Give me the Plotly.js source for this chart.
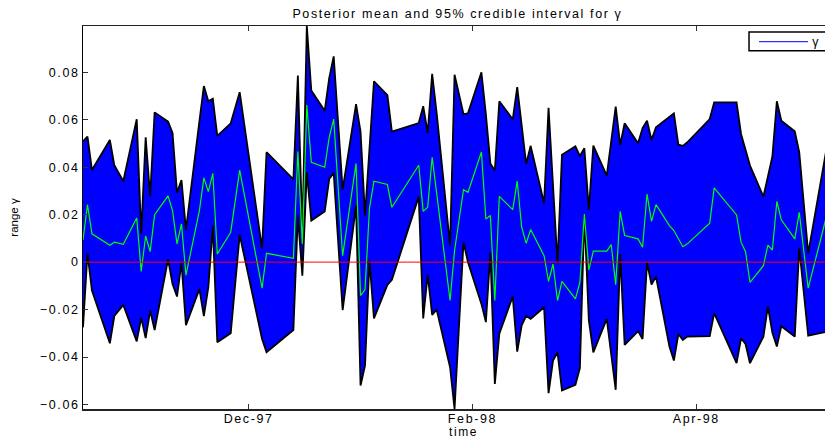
<!DOCTYPE html>
<html><head><meta charset="utf-8">
<script src="https://cdn.plot.ly/plotly-3.0.1.min.js"></script>
<style>
html,body{margin:0;padding:0;overflow:hidden;background:#fff;}
#chart text{letter-spacing:1.6px;}
#chart .ytitle{letter-spacing:0 !important;}
</style></head>
<body><div id="chart" style="width:860px;height:442px;"></div>
<script>
const dates = ['1997-11-19','1997-11-20','1997-11-21','1997-11-25','1997-11-26','1997-11-28',
'1997-12-01','1997-12-02','1997-12-03','1997-12-04','1997-12-05','1997-12-08','1997-12-09','1997-12-10','1997-12-11','1997-12-12','1997-12-15','1997-12-16','1997-12-17','1997-12-18','1997-12-19','1997-12-22','1997-12-24','1997-12-29','1997-12-30',
'1998-01-05','1998-01-06','1998-01-07','1998-01-08','1998-01-09','1998-01-12','1998-01-13','1998-01-14','1998-01-16','1998-01-19','1998-01-20','1998-01-21','1998-01-22','1998-01-23','1998-01-26','1998-01-27',
'1998-02-02','1998-02-03','1998-02-04','1998-02-05','1998-02-06','1998-02-09','1998-02-10','1998-02-12','1998-02-13','1998-02-16','1998-02-17','1998-02-18','1998-02-19','1998-02-20','1998-02-23','1998-02-24','1998-02-25','1998-02-26','1998-02-27',
'1998-03-02','1998-03-03','1998-03-04','1998-03-05','1998-03-06','1998-03-09','1998-03-10','1998-03-11','1998-03-12','1998-03-13','1998-03-16','1998-03-17','1998-03-18','1998-03-19','1998-03-20','1998-03-23','1998-03-24','1998-03-25','1998-03-26','1998-03-27','1998-03-30','1998-03-31',
'1998-04-01','1998-04-02','1998-04-03','1998-04-08','1998-04-09','1998-04-14','1998-04-15','1998-04-16','1998-04-17','1998-04-20','1998-04-21','1998-04-22','1998-04-23','1998-04-24','1998-04-27','1998-04-28','1998-04-30','1998-05-04'];

const upper = [0.0509,0.0529,0.0388,0.0515,0.0408,0.0341,
0.0602,0.0119,0.0526,0.0277,0.0631,0.0592,0.0544,0.0293,0.0346,0.0136,0.0593,0.0742,0.0678,0.0689,0.0532,0.0585,0.0716,0.0057,0.0463,
0.0349,0.0786,0.0119,0.0995,0.0723,0.0638,0.0775,0.0867,0.0305,0.0666,0.0550,0.0196,0.0490,0.0762,0.0704,0.0550,
0.0586,0.0657,0.0544,0.0793,0.0629,0.0070,0.0790,0.0624,0.0627,0.0800,0.0623,0.0416,0.0386,0.0678,0.0602,0.0737,0.0575,0.0414,0.0490,
0.0248,0.0650,0.0310,-0.0005,0.0452,0.0488,0.0447,0.0480,0.0221,0.0491,0.0364,0.0505,0.0655,0.0494,0.0585,0.0501,0.0565,0.0596,0.0515,0.0568,0.0613,0.0627,
0.0495,0.0490,0.0505,0.0603,0.0673,0.0673,0.0540,0.0478,0.0407,0.0276,0.0367,0.0445,0.0678,0.0596,0.0551,0.0463,0.0037,0.0467];

const lower = [-0.0275,0.0037,-0.0120,-0.0342,-0.0227,-0.0180,
-0.0334,-0.0235,-0.0320,-0.0204,-0.0286,0.0012,-0.0092,-0.0145,-0.0002,-0.0266,-0.0114,-0.0228,-0.0106,0.0152,-0.0338,-0.0300,0.0115,-0.0324,-0.0380,
-0.0286,0.0196,-0.0057,0.0379,0.0175,0.0213,0.0350,0.0376,-0.0202,0.0238,-0.0520,-0.0436,0.0006,-0.0237,-0.0096,-0.0075,
0.0276,-0.0237,-0.0053,-0.0222,-0.0200,-0.0443,-0.0619,0.0084,-0.0001,-0.0176,-0.0253,0.0040,-0.0513,-0.0302,-0.0145,-0.0377,-0.0267,-0.0227,-0.0239,
-0.0190,-0.0552,-0.0415,-0.0380,-0.0541,-0.0517,-0.0447,0.0200,-0.0246,-0.0380,-0.0239,-0.0384,-0.0538,0.0034,-0.0349,-0.0291,-0.0324,-0.0002,-0.0095,-0.0061,-0.0356,-0.0415,
-0.0303,-0.0328,-0.0314,-0.0312,-0.0215,-0.0426,-0.0321,-0.0345,-0.0426,-0.0314,-0.0187,-0.0298,-0.0356,-0.0270,-0.0314,0.0060,-0.0310,-0.0294];

const posteriorMean = [0.0093,0.0242,0.0119,0.0071,0.0084,0.0075,
0.0186,-0.0039,0.0110,0.0044,0.0200,0.0279,0.0217,0.0077,0.0161,-0.0055,0.0217,0.0355,0.0297,0.0374,0.0034,0.0126,0.0388,-0.0110,0.0037,
0.0016,0.0466,0.0077,0.0662,0.0421,0.0400,0.0526,0.0603,0.0027,0.0416,-0.0141,-0.0116,0.0227,0.0341,0.0327,0.0231,
0.0408,0.0214,0.0231,0.0442,0.0291,-0.0162,0.0048,0.0305,0.0294,0.0464,0.0182,0.0196,-0.0162,0.0277,0.0221,0.0341,0.0147,0.0079,0.0137,
0.0027,-0.0081,-0.0008,-0.0162,-0.0081,-0.0155,-0.0085,0.0203,-0.0033,0.0046,0.0046,0.0074,-0.0095,0.0214,0.0112,0.0098,0.0063,0.0287,0.0172,0.0242,0.0154,0.0133,
0.0099,0.0065,0.0077,0.0164,0.0313,0.0199,0.0084,0.0044,-0.0085,-0.0015,0.0072,0.0051,0.0256,0.0178,0.0098,0.0210,-0.0110,0.0186];

const xTickVals = ['1997-12-26','1998-02-14','1998-04-05'];
const xTickText = ['Dec-97','Feb-98','Apr-98'];
const yTickVals = [-0.06,-0.04,-0.02,0,0.02,0.04,0.06,0.08];
const xRange = ['1997-11-19','1998-05-08'];
const yRange = [-0.0619,0.0995];
const zeroX = ['1997-11-19','1998-05-08'];
const zeroY = [0,0];

const traces = [
  {x:dates, y:lower, mode:'lines', line:{color:'#000000', width:1.8}, hoverinfo:'skip'},
  {x:dates, y:upper, mode:'lines', fill:'tonexty', fillcolor:'#0000ff', line:{color:'#000000', width:1.8}, hoverinfo:'skip'},
  {x:dates, y:posteriorMean, mode:'lines', name:'γ', line:{color:'#00ff00', width:1.2}},
  {x:zeroX, y:zeroY, mode:'lines', line:{color:'#ff0000', width:1}}
];

const FONT = 'Liberation Sans, Arial, Helvetica, sans-serif';
const FS = 12.5;
const H = 442;
const layout = {
  width:860, height:H,
  margin:{l:83, r:16, t:26, b:33},
  paper_bgcolor:'#ffffff', plot_bgcolor:'#ffffff',
  showlegend:false,
  font:{family:FONT, size:FS, color:'#000000'},
  title:{text:'Posterior mean and 95% credible interval for γ', xref:'paper', x:0.492, xanchor:'center',
         yref:'container', y:1-13.3/H, yanchor:'middle', font:{family:FONT, size:FS, color:'#000'}},
  xaxis:{type:'date', range:xRange, tickmode:'array', tickvals:xTickVals, ticktext:xTickText,
         ticks:'inside', ticklen:5, tickwidth:1, tickcolor:'#333', showline:true, linecolor:'#222', linewidth:1.5,
         mirror:'ticks', showgrid:false, zeroline:false, tickfont:{family:FONT, size:FS}, ticklabelstandoff:-3,
         title:{text:'time', font:{family:FONT, size:12}, standoff:1}},
  yaxis:{range:yRange, tickmode:'array', tickvals:yTickVals,
         ticks:'inside', ticklen:5, tickwidth:1, tickcolor:'#333', showline:true, linecolor:'#000', linewidth:1,
         mirror:'ticks', showgrid:false, zeroline:false, tickfont:{family:FONT, size:FS},
         title:{text:'range γ', font:{family:FONT, size:11.5}, standoff:26}},
  shapes:[
    {type:'rect', xref:'paper', yref:'paper', x0:0.8752, x1:0.99, y0:0.9355, y1:0.9843,
     line:{color:'#000', width:1.5}, fillcolor:'#ffffff', layer:'above'},
    {type:'line', xref:'paper', yref:'paper', x0:0.8883, x1:0.9527, y0:0.959, y1:0.959,
     line:{color:'#0000ff', width:1}, layer:'above'}
  ],
  annotations:[
    {text:'γ', xref:'paper', yref:'paper', x:0.9645, y:0.959, xanchor:'center', yanchor:'middle',
     showarrow:false, font:{family:FONT, size:12.5, color:'#000'}}
  ]
};

Plotly.newPlot('chart', traces, layout, {staticPlot:true, displayModeBar:false});
</script>
</body></html>
